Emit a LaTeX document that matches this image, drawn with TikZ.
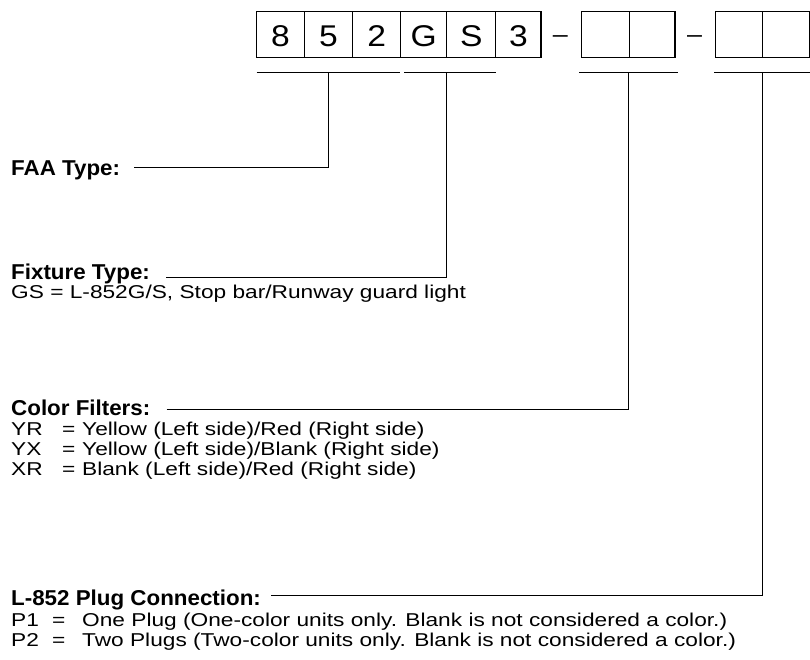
\documentclass[tikz,border=0pt]{standalone}
\usepackage{fontspec}
\setmainfont{Liberation Sans}
\newfontfamily\bodyfam{Liberation Sans}[FakeStretch=1.22]
\newfontfamily\labfam{Liberation Sans}[FakeStretch=1.04]
\newfontfamily\digfam{Liberation Sans}[FakeStretch=1.12]
\begin{document}
\begin{tikzpicture}[x=1pt,y=-1pt,
  cell/.style={draw, line width=1.2pt, minimum height=46pt, inner sep=0pt,
    text height=24pt, text depth=0pt, font=\digfam\fontsize{30}{36}\selectfont},
  dashtxt/.style={inner sep=0pt, anchor=base, font=\digfam\fontsize{24}{28}\selectfont},
  body/.style={inner sep=0pt, anchor=base west, font=\bodyfam\fontsize{18.6}{22}\selectfont},
  lab/.style={inner sep=0pt, anchor=base west, font=\labfam\bfseries\fontsize{21.5}{25}\selectfont},
  rule/.style={line width=1.2pt}]
\useasboundingbox (0,0) rectangle (810,660);
% code boxes
\node[cell, minimum width=47.6pt] (c1) at (280.5,34.7) {8};
\node[cell, minimum width=48.4pt] (c2) at (328.5,34.7) {5};
\node[cell, minimum width=48pt]   (c3) at (376.7,34.7) {2};
\node[cell, minimum width=46pt]   (c4) at (423.7,34.7) {G};
\node[cell, minimum width=49pt]   (c5) at (471.2,34.7) {S};
\node[cell, minimum width=45.3pt] (c6) at (518.35,34.7) {3};
\node[dashtxt] (d1) at (560.3,42.5) {–};
\node[cell, minimum width=47.6pt] (c7) at (605.5,34.7) {};
\node[cell, minimum width=45.7pt] (c8) at (652.15,34.7) {};
\node[dashtxt] (d2) at (694.5,42.5) {–};
\node[cell, minimum width=47pt] (c9) at (738.8,34.7) {};
\node[cell, minimum width=47pt] (c10) at (785.8,34.7) {};
% bars
\coordinate (b1l) at (256.7,72.3); \coordinate (b1r) at (400,72.3);
\coordinate (b2l) at (404,72.3);   \coordinate (b2r) at (495.7,72.3);
\coordinate (b3l) at (579,72.3);   \coordinate (b3r) at (677.7,72.3);
\coordinate (b4l) at (714,72.3);   \coordinate (b4r) at (810,72.3);
\draw[rule] (b1l) -- (b1r);
\draw[rule] (b2l) -- (b2r);
\draw[rule] (b3l) -- (b3r);
\draw[rule] (b4l) -- (b4r);
\coordinate (t1) at (328.3,72.3); \coordinate (k1) at (328.3,167.3);
\coordinate (t2) at (446.7,72.3); \coordinate (k2) at (446.7,277.3);
\coordinate (t3) at (628.3,72.3); \coordinate (k3) at (628.3,409.3);
\coordinate (t4) at (762.3,72.3); \coordinate (k4) at (762.3,595.5);
% labels
\node[lab] (faa) at (11,175.7) {FAA Type:};
\node[lab] (fix) at (11,279) {Fixture Type:};
\node[body] (gs) at (11,298.5) {GS = L-852G/S, Stop bar/Runway guard light};
\node[lab] (col) at (11,415) {Color Filters:};
\node[body] (yr) at (11,435.7) {YR};
\node[body] (yreq) at (62,435.7) {=};
\node[body] (yrd) at (82,435.7) {Yellow (Left side)/Red (Right side)};
\node[body] (yx) at (11,455.3) {YX};
\node[body] (yxeq) at (62,455.3) {=};
\node[body] (yxd) at (82,455.3) {Yellow (Left side)/Blank (Right side)};
\node[body] (xr) at (11,475) {XR};
\node[body] (xreq) at (62,475) {=};
\node[body] (xrd) at (82,475) {Blank (Left side)/Red (Right side)};
\node[lab] (plug) at (11,605) {L-852 Plug Connection:};
\node[body] (p1) at (11,626.7) {P1};
\node[body] (p1eq) at (52,626.7) {=};
\node[body] (p1d) at (82,626.7) {One Plug (One-color units only. Blank is not considered a color.)};
\node[body] (p2) at (11,646.7) {P2};
\node[body] (p2eq) at (52,646.7) {=};
\node[body] (p2d) at (82,646.7) {Two Plugs (Two-color units only. Blank is not considered a color.)};
% leaders
\draw[rule] ([xshift=14pt]faa.east |- k1) -- (k1) -- (t1);
\draw[rule] ([xshift=16pt]fix.east |- k2) -- (k2) -- (t2);
\draw[rule] ([xshift=16pt]col.east |- k3) -- (k3) -- (t3);
\draw[rule] ([xshift=10pt]plug.east |- k4) -- (k4) -- (t4);
\end{tikzpicture}
\end{document}
